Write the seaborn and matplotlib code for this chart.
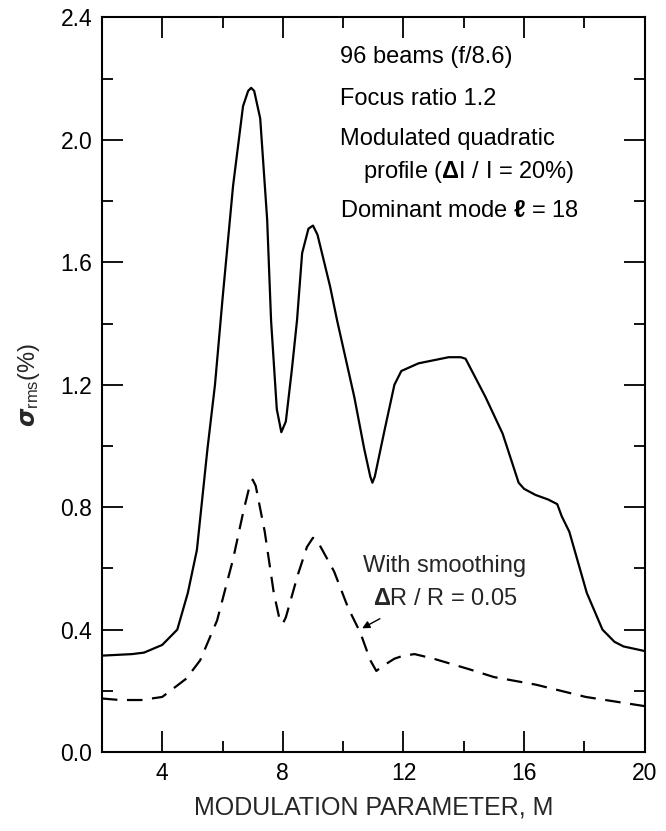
import matplotlib
matplotlib.use("Agg")
import matplotlib.pyplot as plt
import seaborn as sns
import pandas as pd

# Data
m_solid = [2.0, 3.0, 3.4, 4.0, 4.5, 4.85, 5.15, 5.5, 5.75, 6.0, 6.35, 6.68, 6.85, 6.95, 7.05,
           7.25, 7.48, 7.61, 7.8, 7.95, 8.1, 8.3, 8.47, 8.64, 8.85, 9.0, 9.15, 9.57, 9.8,
           10.37, 10.7, 10.9, 10.97, 11.05, 11.37, 11.7, 11.93, 12.5, 13.0, 13.5, 13.9,
           14.06, 14.72, 15.29, 15.82, 16.0, 16.38, 16.8, 17.1, 17.25, 17.5, 18.08, 18.6,
           19.0, 19.3, 20.0]
sigma_solid = [0.315, 0.32, 0.325, 0.35, 0.40, 0.52, 0.66, 0.99, 1.20, 1.48, 1.85, 2.11, 2.16,
               2.17, 2.16, 2.07, 1.74, 1.41, 1.12, 1.045, 1.08, 1.25, 1.41, 1.63, 1.71, 1.72,
               1.69, 1.52, 1.41, 1.16, 0.99, 0.90, 0.88, 0.90, 1.05, 1.20, 1.245, 1.27, 1.28,
               1.29, 1.29, 1.285, 1.16, 1.04, 0.88, 0.86, 0.84, 0.825, 0.81, 0.77, 0.72, 0.52,
               0.40, 0.36, 0.345, 0.33]

m_smooth = [2.0, 2.6, 3.3, 4.0, 4.8, 5.26, 5.82, 6.35, 6.7, 6.9, 7.0, 7.1, 7.4, 7.7, 7.9, 8.0,
            8.1, 8.5, 8.8, 9.0, 9.2, 9.7, 10.17, 10.57, 10.9, 11.1, 11.3, 11.7, 12.0, 12.37,
            13.0, 14.2, 15.0, 16.4, 18.05, 20.0]
sigma_smooth = [0.175, 0.17, 0.17, 0.18, 0.24, 0.30, 0.43, 0.63, 0.79, 0.87, 0.89, 0.87, 0.72,
                0.52, 0.43, 0.42, 0.44, 0.58, 0.67, 0.70, 0.68, 0.59, 0.47, 0.39, 0.30, 0.265,
                0.28, 0.305, 0.315, 0.32, 0.305, 0.27, 0.245, 0.22, 0.18, 0.15]

x_ticks = [4, 8, 12, 16, 20]
y_ticks = [0.0, 0.4, 0.8, 1.2, 1.6, 2.0, 2.4]

sns.set_theme(style="ticks")
plt.rcParams['font.family'] = ['Liberation Sans', 'DejaVu Sans']
plt.rcParams['mathtext.fontset'] = 'custom'
plt.rcParams['mathtext.rm'] = 'Liberation Sans'
plt.rcParams['mathtext.it'] = 'Liberation Sans:italic'
plt.rcParams['mathtext.bf'] = 'Liberation Sans:bold'

df_solid = pd.DataFrame({"M": m_solid, "sigma": sigma_solid})
df_smooth = pd.DataFrame({"M": m_smooth, "sigma": sigma_smooth})

fig = plt.figure(figsize=(6.66, 8.31), dpi=100)
ax = fig.add_axes([0.153, 0.095, 0.815, 0.884])

sns.lineplot(data=df_solid, x="M", y="sigma", ax=ax, color="black", linewidth=1.6,
             estimator=None, sort=False)
sns.lineplot(data=df_smooth, x="M", y="sigma", ax=ax, color="black", linewidth=1.6,
             estimator=None, sort=False, linestyle=(0, (7, 4.3)))

ax.set_xlim(2, 20)
ax.set_ylim(0, 2.4)
ax.set_xticks(x_ticks)
ax.set_xticks([6, 10, 14, 18], minor=True)
ax.set_yticks(y_ticks)
ax.set_yticklabels([f"{v:.1f}" for v in y_ticks])
ax.set_yticks([0.2, 0.6, 1.0, 1.4, 1.8, 2.2], minor=True)
ax.tick_params(which='both', direction='in', top=True, right=True, width=1.3,
               labelsize=16.5, colors='black')
ax.tick_params(which='major', length=15, pad=7)
ax.tick_params(which='minor', length=8)
for s in ax.spines.values():
    s.set_linewidth(1.5)
    s.set_color('black')
    s.set_visible(True)

ax.set_xlabel("MODULATION PARAMETER, M", fontsize=18, labelpad=8)
ax.set_ylabel(r"$\boldsymbol{\sigma}_{\mathrm{rms}}$(%)", fontsize=17, labelpad=13)

txt_kw = dict(transform=ax.transData, fontsize=17, color='black', ha='left', va='center')
ax.text(9.9, 2.27, "96 beams (f/8.6)", **txt_kw)
ax.text(9.9, 2.135, "Focus ratio 1.2", **txt_kw)
ax.text(9.9, 2.003, "Modulated quadratic", **txt_kw)
ax.text(10.67, 1.895, r"profile ($\mathbf{\Delta}$I / I = 20%)", **txt_kw)
ax.text(9.9, 1.767, r"Dominant mode $\boldsymbol{\ell}$ = 18", **txt_kw)

ax.text(13.35, 0.607, "With smoothing", fontsize=17, ha='center', va='center')
ax.text(13.4, 0.50, r"$\mathbf{\Delta}$R / R = 0.05", fontsize=17, ha='center', va='center')
ax.annotate("", xy=(10.55, 0.40), xytext=(11.3, 0.44),
            arrowprops=dict(arrowstyle='-|>', color='black', lw=1.0, mutation_scale=11))

fig.savefig("out.png", dpi=100)
